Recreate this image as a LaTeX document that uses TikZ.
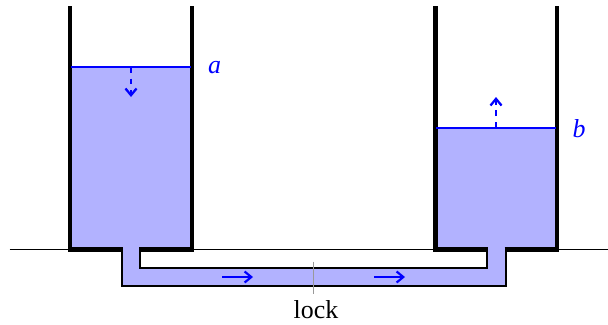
\documentclass[tikz,border=0pt]{standalone}
\usepackage{fontspec}
\setmainfont{Liberation Serif}
\usepackage{xcolor}
\usetikzlibrary{arrows.meta}

\begin{document}
\begin{tikzpicture}[x=.417pt, y=-.417pt,
    font=\fontsize{10.8pt}{13pt}\selectfont,
    wall/.style={black, line width=1.8pt, line cap=butt, line join=miter},
    pipe/.style={black, line width=.9pt, line join=miter},
    level/.style={blue, line width=.8pt},
    flow/.style={blue, line width=.9pt, -{Straight Barb[length=2.8pt, width=4.6pt]}},
    move/.style={blue, line width=.95pt, dash pattern=on 2.4pt off 2.4pt, -{Straight Barb[length=2.8pt, width=4.6pt]}},
    water/.style={fill=blue!30, draw=none}]

    \pgfmathsetmacro{\top}{6}
    \pgfmathsetmacro{\base}{249.5}
    \pgfmathsetmacro{\levela}{67}
    \pgfmathsetmacro{\levelb}{127.7}
    \pgfmathsetmacro{\inner}{267.7}
    \pgfmathsetmacro{\outer}{285.7}

    \useasboundingbox (0, 0) rectangle (608, 324);

    % water
    \fill[water] (70, \levela) rectangle (192, \base);
    \fill[water] (435, \levelb) rectangle (557, \base);
    \fill[water] (122, \base) rectangle (505.7, \outer);
    \fill[white] (140, \base) rectangle (486.7, \inner);

    % ground
    \draw[line width=.7pt] (9.5, \base) -- (70, \base);
    \draw[line width=.7pt] (192, \base) -- (435, \base);
    \draw[line width=.7pt] (557, \base) -- (608, \base);

    % pipe
    \draw[pipe] (122, \base) -- (122, \outer) -- (505.7, \outer) -- (505.7, \base);
    \draw[pipe] (140, \base) -- (140, \inner) -- (486.7, \inner) -- (486.7, \base);

    % tanks
    \draw[wall] (70, \top) -- (70, \base) -- (123, \base);
    \draw[wall] (139, \base) -- (192, \base) -- (192, \top);
    \draw[wall] (435.5, \top) -- (435.5, \base) -- (487.7, \base);
    \draw[wall] (504.7, \base) -- (557, \base) -- (557, \top);

    % levels
    \draw[level] (71, \levela) -- (191, \levela);
    \draw[level] (436, \levelb) -- (556, \levelb);

    \node[blue] (a) at (214.5, 68) {\textit{a}};
    \node[blue] (b) at (579, 128.5) {\textit{b}};

    \coordinate (adown) at (131, 97);
    \coordinate (astart) at (131, \levela);
    \coordinate (bup) at (496, 97);
    \coordinate (bstart) at (496, \levelb);
    \draw[move] (astart) -- (adown);
    \draw[move] (bstart) -- (bup);

    % flow
    \coordinate (fa) at (222, 277);
    \coordinate (fb) at (253, 277);
    \coordinate (fc) at (374, 277);
    \coordinate (fd) at (405, 277);
    \draw[flow] (fa) -- (fb);
    \draw[flow] (fc) -- (fd);

    % lock
    \node (lock) at (316, 309.5) {lock};
    \coordinate (locktop) at (313.5, 261.5);
    \coordinate (lockbot) at (313.5, 293.5);
    \draw[gray!80, line width=.45pt] (locktop) -- (lockbot);

\end{tikzpicture}
\end{document}
